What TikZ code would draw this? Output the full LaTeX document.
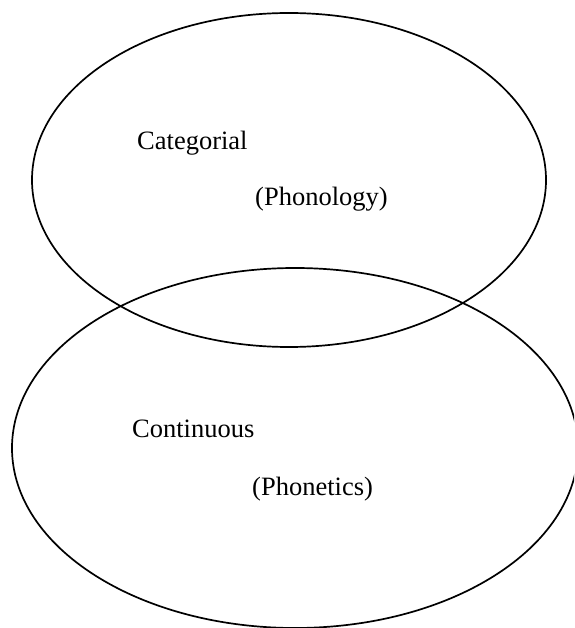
\documentclass[tikz,border=0pt]{standalone}
\usepackage{fontspec}
\setmainfont{Liberation Serif}
\begin{document}
\begin{tikzpicture}[x=1pt,y=-1pt,
  oval/.style={draw=black,line width=1.7pt},
  lbl/.style={anchor=base west,inner sep=0pt,font=\fontsize{26.5}{30}\selectfont}]
\useasboundingbox (0,0) rectangle (574,628);
\clip (0,0) rectangle (574,628);
\fill[white] (0,0) rectangle (574,628);
\draw[oval] (289,180) ellipse [x radius=257, y radius=167];
\draw[oval] (295,448) ellipse [x radius=283, y radius=180];
\node[lbl] (cat) at (137,150) {Categorial};
\node[lbl] (pho) at (255,206) {(Phonology)};
\node[lbl] (con) at (132,437) {Continuous};
\node[lbl] (phe) at (252,495) {(Phonetics)};
\end{tikzpicture}
\end{document}
